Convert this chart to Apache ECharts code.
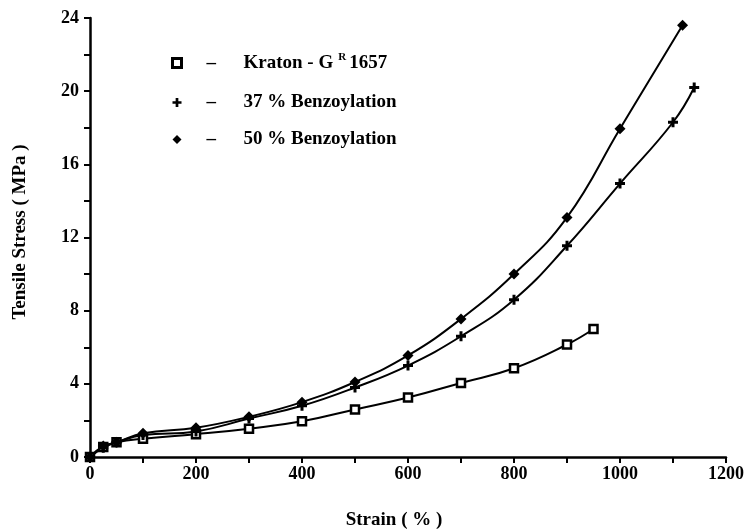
<!DOCTYPE html>
<html><head><meta charset="utf-8">
<script src="https://cdn.jsdelivr.net/npm/echarts@6/dist/echarts.min.js"></script>
<style>html,body{margin:0;padding:0;background:#fff}#c{width:747px;height:531px}</style>
</head><body><div id="c"></div>
<script>
const kratonX = [0, 25, 50, 100, 200, 300, 400, 500, 600, 700, 800, 900, 950];
const kratonY = [0, 0.55, 0.8, 1.0, 1.25, 1.55, 1.95, 2.6, 3.25, 4.05, 4.85, 6.15, 7.0];
const b37X = [0, 25, 50, 100, 200, 300, 400, 500, 600, 700, 800, 900, 1000, 1100, 1140];
const b37Y = [0, 0.5, 0.8, 1.2, 1.4, 2.1, 2.8, 3.8, 5.0, 6.6, 8.6, 11.55, 14.95, 18.3, 20.2];
const b50X = [0, 25, 50, 100, 200, 300, 400, 500, 600, 700, 800, 900, 1000, 1118];
const b50Y = [0, 0.6, 0.8, 1.3, 1.6, 2.2, 3.0, 4.1, 5.55, 7.55, 10.0, 13.1, 17.95, 23.6];
const seriesNames = ['Kraton - G R 1657', '37 % Benzoylation', '50 % Benzoylation'];
const xTicks = [0, 200, 400, 600, 800, 1000, 1200];
const yTicks = [0, 4, 8, 12, 16, 20, 24];
const xName = 'Strain ( % )';
const yName = 'Tensile Stress ( MPa )';

const zip = (xs, ys) => xs.map((x, i) => [x, ys[i]]);
const font = 'Liberation Serif';
const chart = echarts.init(document.getElementById('c'));
const crossPath = 'path://M3.5,0H6.5V3.5H10V6.5H6.5V10H3.5V6.5H0V3.5H3.5Z';
const lf = 19;
chart.setOption({
  animation: false,
  backgroundColor: '#fff',
  grid: { left: 90, right: 9, top: 18, bottom: 74 },
  legend: {
    orient: 'vertical', left: 166, top: 47, itemGap: 18, itemWidth: 9, itemHeight: 9,
    textStyle: { fontFamily: font, fontWeight: 'bold', fontSize: lf, color: '#000',
      rich: {
        d: { width: 37, fontFamily: font, fontWeight: 'bold', fontSize: lf, lineHeight: 22, align: 'left', padding: [0,0,0,20] },
        t: { fontFamily: font, fontWeight: 'bold', fontSize: lf, lineHeight: 22 },
        s: { fontFamily: font, fontWeight: 'bold', fontSize: 11, verticalAlign: 'top', lineHeight: 22, padding: [0, 3, 12, 5] }
      } },
    formatter: function (n) {
      if (n === seriesNames[0]) return '{d|–}{t|Kraton - G}{s|R}{t|1657}';
      return '{d|–}{t|' + n + '}';
    },
    data: [
      { name: seriesNames[0], icon: 'rect', itemStyle: { color: '#fff', borderColor: '#000', borderWidth: 3 } },
      { name: seriesNames[1], icon: crossPath, itemStyle: { color: '#000', borderWidth: 0 } },
      { name: seriesNames[2], icon: 'diamond', itemStyle: { color: '#000', borderWidth: 0 } }
    ]
  },
  xAxis: {
    type: 'value', min: 0, max: 1200, interval: 100,
    axisLine: { lineStyle: { color: '#000', width: 2.5 } },
    axisTick: { show: true, length: 6, lineStyle: { color: '#000', width: 2 } },
    splitLine: { show: false },
    axisLabel: { color: '#000', fontFamily: font, fontWeight: 'bold', fontSize: 18, margin: 8,
      formatter: v => xTicks.includes(v) ? String(v) : '' }
  },
  yAxis: {
    type: 'value', min: 0, max: 24, interval: 2,
    axisLine: { show: true, lineStyle: { color: '#000', width: 2.5 } },
    axisTick: { show: true, length: 6, lineStyle: { color: '#000', width: 2 } },
    splitLine: { show: false },
    axisLabel: { color: '#000', fontFamily: font, fontWeight: 'bold', fontSize: 18, margin: 11,
      formatter: v => yTicks.includes(v) ? String(v) : '' }
  },
  graphic: [
    { type: 'text', x: 394, y: 520,
      style: { text: xName, fontFamily: font, fontWeight: 'bold', fontSize: 19, fill: '#000', align: 'center', verticalAlign: 'middle' } },
    { type: 'text', x: 20, y: 232, rotation: Math.PI / 2,
      style: { text: yName, fontFamily: font, fontWeight: 'bold', fontSize: 19, fill: '#000', align: 'center', verticalAlign: 'middle' } }
  ],
  series: [
    { name: seriesNames[0], type: 'line', smooth: 0.45, data: zip(kratonX, kratonY),
      symbol: 'rect', symbolSize: 8, lineStyle: { color: '#000', width: 2 },
      itemStyle: { color: '#fff', borderColor: '#000', borderWidth: 2.5 } },
    { name: seriesNames[1], type: 'line', smooth: 0.45, data: zip(b37X, b37Y),
      symbol: crossPath, symbolSize: 10, lineStyle: { color: '#000', width: 2 },
      itemStyle: { color: '#000', borderWidth: 0 } },
    { name: seriesNames[2], type: 'line', smooth: 0.45, data: zip(b50X, b50Y),
      symbol: 'diamond', symbolSize: 11, lineStyle: { color: '#000', width: 2 },
      itemStyle: { color: '#000', borderWidth: 0 } }
  ]
});
</script></body></html>
